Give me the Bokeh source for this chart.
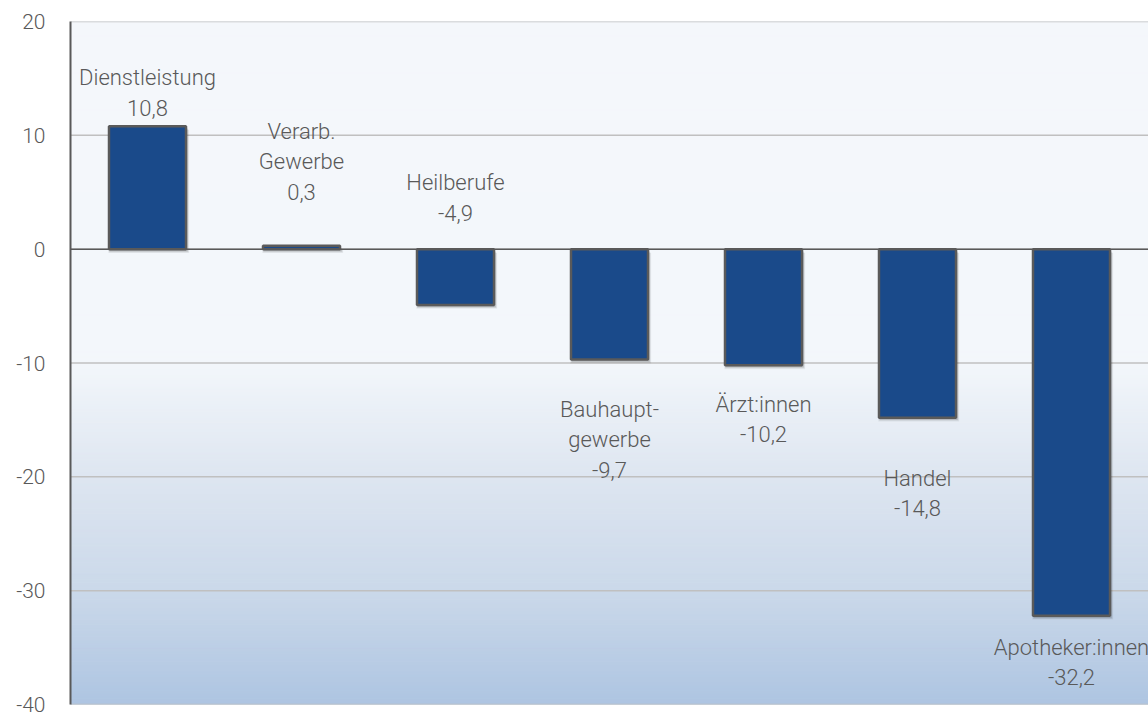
import numpy as np
from bokeh.plotting import figure
from bokeh.models import FactorRange, ColumnDataSource, Range1d, FixedTicker
from bokeh.transform import dodge
from bokeh.core.properties import value
from bokeh.embed import file_html
from bokeh.resources import INLINE

# Change by sector (in %)
categories = ["Dienstleistung", "Verarb. Gewerbe", "Heilberufe", "Bauhauptgewerbe",
              "Ärzt:innen", "Handel", "Apotheker:innen"]
names = ["Dienstleistung", "Verarb.\nGewerbe", "Heilberufe", "Bauhaupt-\ngewerbe",
         "Ärzt:innen", "Handel", "Apotheker:innen"]
values = [10.8, 0.3, -4.9, -9.7, -10.2, -14.8, -32.2]
y_ticks = [-40, -30, -20, -10, 0, 10, 20]
y_tick_labels = ["-40", "-30", "-20", "-10", "0", "10", "20"]

# label placement: anchor at bar end (or zero line), shifted in screen pixels
label_at_zero = [False, False, True, False, False, False, False]
label_shift_px = [-33, -84, -51, 80, 54, 76, 47]

TEXT = "#595959"
FONT = "'Roboto Light', Roboto"
n = len(categories)

p = figure(width=1148, height=716, output_backend="svg", toolbar_location=None,
           x_range=FactorRange(factors=categories, range_padding=0),
           y_range=Range1d(-40, 20),
           min_border_left=70, min_border_right=0, min_border_top=21, min_border_bottom=12)
p.background_fill_color = "#f4f7fb"
p.border_fill_color = "white"
p.outline_line_color = None

# vertical background gradient below -10
stops_y = [-40, -30, -20, -10, 20]
stops_c = [(0xae, 0xc5, 0xe2), (0xcb, 0xd9, 0xea), (0xde, 0xe6, 0xf1),
           (0xf3, 0xf7, 0xfb), (0xf5, 0xf8, 0xfb)]
edges = np.linspace(-40, 20, 241)
mids = (edges[:-1] + edges[1:]) / 2
cols = []
for m in mids:
    r = np.interp(m, stops_y, [c[0] for c in stops_c])
    g = np.interp(m, stops_y, [c[1] for c in stops_c])
    b = np.interp(m, stops_y, [c[2] for c in stops_c])
    cols.append("#%02x%02x%02x" % (int(r), int(g), int(b)))
p.quad(left=0, right=n, bottom=edges[:-1], top=edges[1:],
       fill_color=cols, line_color=cols, line_width=1)

# horizontal grid lines
p.segment(x0=[0] * len(y_ticks), x1=[n] * len(y_ticks), y0=y_ticks, y1=y_ticks,
          line_color="#c0c0c0", line_width=1.5)

# soft drop shadow, shifted slightly down and right
for drop, w, a in [(0.34, 0.525, 0.06), (0.26, 0.515, 0.09), (0.18, 0.505, 0.12)]:
    sh = ColumnDataSource(dict(cat=categories,
                               top=[v - drop for v in values],
                               bottom=[-drop] * n))
    p.vbar(x=dodge("cat", 0.008, range=p.x_range), top="top", bottom="bottom",
           width=w, source=sh, fill_color="#000000", fill_alpha=a, line_color=None)

src = ColumnDataSource(dict(cat=categories, val=values, zero=[0] * n))
p.vbar(x="cat", top="val", bottom="zero", width=0.5, source=src,
       fill_color="#1a4a8a", line_color="#5a5a5a", line_width=2.5)

# zero line
p.segment(x0=[0], x1=[n], y0=[0], y1=[0], line_color="#595959", line_width=1.5)

# labels
anchors = [0 if z else v for z, v in zip(label_at_zero, values)]
texts = [f"{nm}\n{str(v).replace('.', ',')}" for nm, v in zip(names, values)]
lsrc = ColumnDataSource(dict(cat=categories, y=anchors, text=texts, dy=label_shift_px))
p.text(x="cat", y="y", text="text", y_offset="dy", source=lsrc,
       text_align="center", text_baseline="middle", text_color=TEXT,
       text_font=value(FONT), text_font_size="22px", text_line_height=1.22)

# axes
p.xaxis.visible = False
p.xgrid.visible = False
p.ygrid.visible = False
ax = p.yaxis[0]
ax.ticker = FixedTicker(ticks=y_ticks)
ax.major_label_overrides = {t: s for t, s in zip(y_ticks, y_tick_labels)}
ax.axis_line_color = "#595959"
ax.axis_line_width = 2
ax.major_tick_line_color = None
ax.minor_tick_line_color = None
ax.major_tick_out = 0
ax.major_label_standoff = 25
ax.major_label_text_font = FONT
ax.major_label_text_font_size = "21px"
ax.major_label_text_color = TEXT

open("out.html", "w").write(file_html(p, INLINE))
